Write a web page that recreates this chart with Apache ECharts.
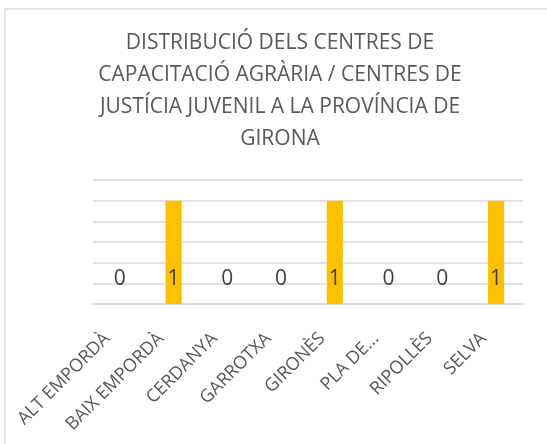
<!DOCTYPE html>
<html lang="ca">

<head>
    <meta charset="UTF-8">
    <title>Centres de capacitació agrària</title>
    <script src="https://cdn.jsdelivr.net/npm/echarts@6/dist/echarts.min.js"></script>
    <style>
        html, body { margin: 0; padding: 0; background: #fff; }
        #chart { width: 547px; height: 444px; }
    </style>
</head>

<body>
    <div id="chart"></div>
    <script>
        // comarques de Girona
        var comarques = ['ALT EMPORDÀ', 'BAIX EMPORDÀ', 'CERDANYA', 'GARROTXA', 'GIRONÈS', "PLA DE L'ESTANY", 'RIPOLLÈS', 'SELVA'];
        var centres = [0, 1, 0, 0, 1, 0, 0, 1];
        var titol = ['DISTRIBUCIÓ DELS CENTRES DE', 'CAPACITACIÓ AGRÀRIA / CENTRES DE', 'JUSTÍCIA JUVENIL A LA PROVÍNCIA DE', 'GIRONA'];

        var chart = echarts.init(document.getElementById('chart'));
        var option = {
            animation: false,
            textStyle: { fontFamily: 'Open Sans' },
            graphic: [{
                type: 'rect',
                shape: { x: 5, y: 9, width: 600, height: 500 },
                style: { fill: 'none', stroke: '#d9d9d9', lineWidth: 1.5 },
                silent: true
            }, {
                // titol
                type: 'text',
                x: 280,
                y: 27,
                silent: true,
                style: {
                    text: titol.join('\n'),
                    textAlign: 'center',
                    textVerticalAlign: 'top',
                    fill: '#595959',
                    fontSize: 21,
                    lineHeight: 32,
                    fontFamily: 'Open Sans'
                }
            }],
            grid: { left: 93, right: 24, top: 180, bottom: 140 },
            xAxis: {
                type: 'category',
                data: comarques,
                axisLine: { lineStyle: { color: '#d9d9d9', width: 1.5 } },
                axisTick: { show: false },
                axisLabel: {
                    interval: 0,
                    rotate: 45,
                    margin: 19,
                    padding: [0, 18, 0, 0],
                    color: '#595959',
                    fontSize: 18,
                    fontFamily: 'Open Sans',
                    formatter: function (v) {
                        return v.length > 12 ? v.substring(0, 6) + '...' : v;
                    }
                }
            },
            yAxis: {
                type: 'value',
                min: 0,
                max: 1.2,
                interval: 0.2,
                axisLabel: { show: false },
                axisLine: { show: false },
                axisTick: { show: false },
                splitLine: { lineStyle: { color: '#d9d9d9', width: 1.5 } }
            },
            series: [{
                type: 'bar',
                data: centres,
                barWidth: '30%',
                itemStyle: { color: '#ffc000' },
                label: {
                    show: true,
                    position: 'insideBottom',
                    distance: 14,
                    color: '#404040',
                    fontSize: 21,
                    fontFamily: 'Open Sans'
                }
            }]
        };
        chart.setOption(option);
    </script>
</body>

</html>
